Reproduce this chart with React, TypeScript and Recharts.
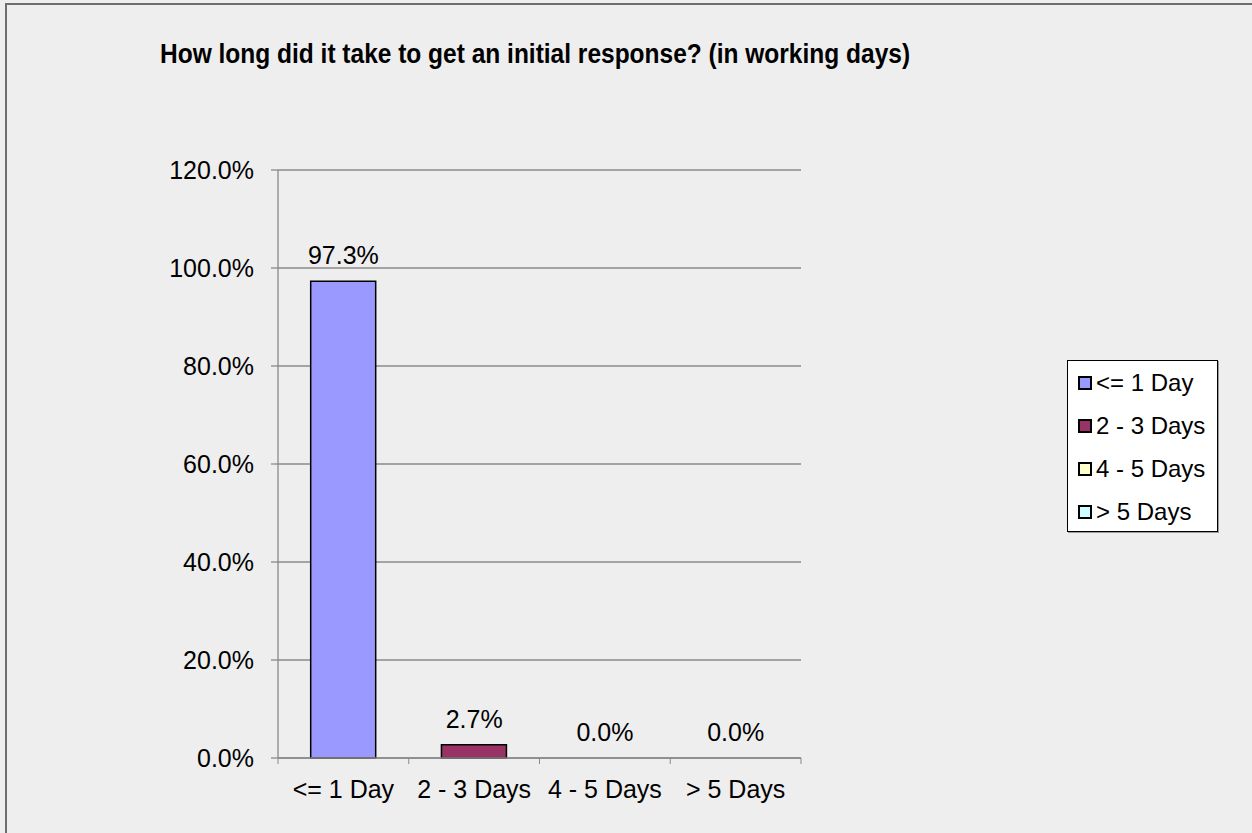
import React from 'react';
import {
  ComposedChart,
  Bar,
  Line,
  XAxis,
  YAxis,
  CartesianGrid,
  Cell,
  LabelList,
  Legend,
  Text
} from 'recharts';

const categories = ['<= 1 Day', '2 - 3 Days', '4 - 5 Days', '> 5 Days'];
const shares = [0.973, 0.027, 0.0, 0.0];
const barColors = ['#9999FF', '#993366', '#FFFFCC', '#CCFFFF'];
const yTicks = [0, 0.2, 0.4, 0.6, 0.8, 1.0, 1.2];

const TITLE = 'How long did it take to get an initial response? (in working days)';
const FONT = '"Liberation Sans", Arial, sans-serif';
const GRID = '#8a8a8a';
const X_TICK_SIZE = 6;
const X_TICK_MARGIN = 16;

const pct = (v: number) => `${(v * 100).toFixed(1)}%`;

// x-axis ticks sit on the category edges, like Excel
const CategoryTick = (props: any) => {
  const { x, y, payload, index } = props;
  const half = payload?.offset || 65.375;
  const axisY = y - X_TICK_SIZE - X_TICK_MARGIN;
  return (
    <g>
      <line x1={x - half} x2={x - half} y1={axisY} y2={axisY + X_TICK_SIZE} stroke={GRID} />
      {index === categories.length - 1 && (
        <line x1={x + half} x2={x + half} y1={axisY} y2={axisY + X_TICK_SIZE} stroke={GRID} />
      )}
      <Text x={x} y={y} textAnchor="middle" verticalAnchor="start" fontSize={25} fill="#000" fontFamily={FONT}>
        {payload.value}
      </Text>
    </g>
  );
};

const LegendBox = () => (
  <div
    style={{
      width: 151,
      height: 172,
      boxSizing: 'border-box',
      background: '#fff',
      border: '1px solid #000',
      boxShadow: '1px 1px 0 #9a9a9a',
      fontFamily: FONT,
      fontSize: 24,
      color: '#000'
    }}
  >
    {categories.map((c, i) => (
      <div key={c} style={{ height: 43, display: 'flex', alignItems: 'center', paddingLeft: 10 }}>
        <span
          style={{
            width: 14,
            height: 14,
            boxSizing: 'border-box',
            border: '2px solid #000',
            background: barColors[i],
            marginRight: 4,
            flexShrink: 0
          }}
        />
        <span style={{ lineHeight: '43px', whiteSpace: 'nowrap' }}>{c}</span>
      </div>
    ))}
  </div>
);

export default function App() {
  const data = categories.map((name, i) => ({ name, value: shares[i] }));

  return (
    <div
      style={{
        position: 'absolute',
        left: 0,
        top: 0,
        width: 1252,
        height: 833,
        overflow: 'hidden',
        background: '#eeeeee',
        fontFamily: FONT
      }}
    >
      <div
        style={{
          position: 'absolute',
          left: 5,
          top: 3,
          width: 1270,
          height: 850,
          border: '2px solid #6e6e6e'
        }}
      />
      <div
        style={{
          position: 'absolute',
          left: 160,
          top: 41,
          fontSize: 24.5,
          lineHeight: '24px',
          fontWeight: 'bold',
          color: '#000',
          whiteSpace: 'nowrap',
          transform: 'scaleY(1.1)',
          transformOrigin: 'left top'
        }}
      >
        {TITLE}
      </div>
      <div style={{ position: 'absolute', left: 0, top: 0 }}>
        <ComposedChart
          width={1252}
          height={833}
          data={data}
          margin={{ top: 170, right: 451, bottom: 15, left: 178 }}
          barCategoryGap="25%"
        >
          <CartesianGrid vertical={false} stroke={GRID} strokeWidth={1.3} />
          <XAxis
            dataKey="name"
            height={60}
            axisLine={{ stroke: GRID, strokeWidth: 1.3 }}
            tickLine={false}
            tickSize={X_TICK_SIZE}
            tickMargin={X_TICK_MARGIN}
            tick={<CategoryTick />}
            interval={0}
          />
          <YAxis
            width={100}
            domain={[0, 1.2]}
            ticks={yTicks}
            tickFormatter={pct}
            axisLine={{ stroke: GRID, strokeWidth: 1.3 }}
            tickLine={{ stroke: GRID, strokeWidth: 1.3 }}
            tickSize={7}
            tickMargin={17}
            tick={{ fontSize: 25, fill: '#000', fontFamily: FONT }}
          />
          <Legend
            layout="vertical"
            align="center"
            verticalAlign="middle"
            content={<LegendBox />}
            wrapperStyle={{ left: 1067, top: 360, width: 151, height: 172 }}
          />
          <Bar dataKey="value" stroke="#000" strokeWidth={1.5} isAnimationActive={false}>
            {data.map((d, i) => (
              <Cell key={d.name} fill={barColors[i]} />
            ))}
          </Bar>
          {/* invisible series that carries the value labels, so 0% bars get one too */}
          <Line
            dataKey="value"
            stroke="none"
            dot={false}
            activeDot={false}
            legendType="none"
            isAnimationActive={false}
          >
            <LabelList
              dataKey="value"
              position="top"
              offset={17}
              formatter={(v: any) => pct(Number(v))}
              style={{ fontSize: 25, fill: '#000', fontFamily: FONT }}
            />
          </Line>
        </ComposedChart>
      </div>
    </div>
  );
}
